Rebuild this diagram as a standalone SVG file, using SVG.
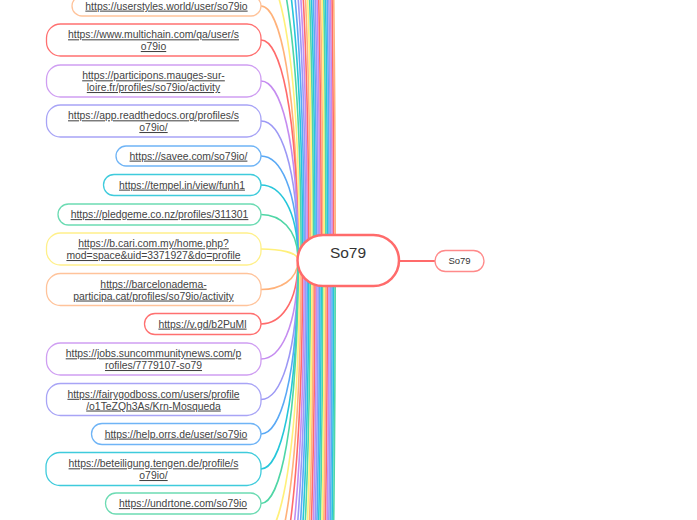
<svg xmlns="http://www.w3.org/2000/svg" width="697" height="520" viewBox="0 0 697 520">
<style>
.c{fill:none;stroke-width:1.6}
.r{stroke:#ff6b6b}.o{stroke:#ffb27a}.y{stroke:#fff07a}.g{stroke:#4fd6a6}.cy{stroke:#26c6da}.b{stroke:#5aa9f5}.l{stroke:#9c98f5}.p{stroke:#c58cf0}
.n rect{fill:#fff;stroke-width:1.3}
.t{font-family:"Liberation Sans",Arial,sans-serif;font-size:10.4px;fill:#444;text-decoration:underline;text-anchor:middle}
</style>
<rect width="697" height="520" fill="#fff"/>
<g id="connectors">
<path class="c y" d="M261,-29 C280.3,-29 299.55,57.7 299.55,260"/>
<path class="c g" d="M261,-65 C281.05,-65 301.1,32.5 301.1,260"/>
<path class="c cy" d="M261,-101 C281.8,-101 302.65,7.3 302.65,260"/>
<path class="c b" d="M261,-137 C282.6,-137 304.2,-17.9 304.2,260"/>
<path class="c l" d="M261,-173 C283.4,-173 305.75,-43.1 305.75,260"/>
<path class="c p" d="M261,-209 C284.2,-209 307.3,-68.3 307.3,260"/>
<path class="c r" d="M261,-245 C284.9,-245 308.85,-93.5 308.85,260"/>
<path class="c o" d="M261,-281 C285.7,-281 310.4,-118.7 310.4,260"/>
<path class="c y" d="M261,-317 C286.5,-317 311.95,-143.9 311.95,260"/>
<path class="c g" d="M261,-353 C287.3,-353 313.5,-169.1 313.5,260"/>
<path class="c cy" d="M261,-389 C288,-389 315.05,-194.3 315.05,260"/>
<path class="c b" d="M261,-425 C288.8,-425 316.6,-219.5 316.6,260"/>
<path class="c l" d="M261,-461 C289.6,-461 318.15,-244.7 318.15,260"/>
<path class="c p" d="M261,-497 C290.4,-497 319.7,-269.9 319.7,260"/>
<path class="c r" d="M261,-533 C291.1,-533 321.25,-295.1 321.25,260"/>
<path class="c o" d="M261,-569 C291.9,-569 322.8,-320.3 322.8,260"/>
<path class="c y" d="M261,-605 C292.7,-605 324.35,-345.5 324.35,260"/>
<path class="c g" d="M261,-641 C293.5,-641 325.9,-370.7 325.9,260"/>
<path class="c cy" d="M261,-677 C294.2,-677 327.45,-395.9 327.45,260"/>
<path class="c b" d="M261,-713 C295,-713 329,-421.1 329,260"/>
<path class="c l" d="M261,-749 C295.8,-749 330.55,-446.3 330.55,260"/>
<path class="c p" d="M261,-785 C296.6,-785 332.1,-471.5 332.1,260"/>
<path class="c r" d="M261,-821 C297.3,-821 333.65,-496.7 333.65,260"/>
<path class="c o" d="M261,-857 C298.1,-857 335.2,-521.9 335.2,260"/>
<path class="c y" d="M261,539.5 C280.3,539.5 299.55,455.65 299.55,260"/>
<path class="c o" d="M261,575.5 C281.05,575.5 301.1,480.85 301.1,260"/>
<path class="c r" d="M261,611.5 C281.8,611.5 302.65,506.05 302.65,260"/>
<path class="c p" d="M261,647.5 C282.6,647.5 304.2,531.25 304.2,260"/>
<path class="c l" d="M261,683.5 C283.4,683.5 305.75,556.45 305.75,260"/>
<path class="c b" d="M261,719.5 C284.2,719.5 307.3,581.65 307.3,260"/>
<path class="c cy" d="M261,755.5 C284.9,755.5 308.85,606.85 308.85,260"/>
<path class="c g" d="M261,791.5 C285.7,791.5 310.4,632.05 310.4,260"/>
<path class="c y" d="M261,827.5 C286.5,827.5 311.95,657.25 311.95,260"/>
<path class="c o" d="M261,863.5 C287.3,863.5 313.5,682.45 313.5,260"/>
<path class="c r" d="M261,899.5 C288,899.5 315.05,707.65 315.05,260"/>
<path class="c p" d="M261,935.5 C288.8,935.5 316.6,732.85 316.6,260"/>
<path class="c l" d="M261,971.5 C289.6,971.5 318.15,758.05 318.15,260"/>
<path class="c b" d="M261,1007.5 C290.4,1007.5 319.7,783.25 319.7,260"/>
<path class="c cy" d="M261,1043.5 C291.1,1043.5 321.25,808.45 321.25,260"/>
<path class="c g" d="M261,1079.5 C291.9,1079.5 322.8,833.65 322.8,260"/>
<path class="c y" d="M261,1115.5 C292.7,1115.5 324.35,858.85 324.35,260"/>
<path class="c o" d="M261,1151.5 C293.5,1151.5 325.9,884.05 325.9,260"/>
<path class="c r" d="M261,1187.5 C294.2,1187.5 327.45,909.25 327.45,260"/>
<path class="c p" d="M261,1223.5 C295,1223.5 329,934.45 329,260"/>
<path class="c l" d="M261,1259.5 C295.8,1259.5 330.55,959.65 330.55,260"/>
<path class="c b" d="M261,1295.5 C296.6,1295.5 332.1,984.85 332.1,260"/>
<path class="c cy" d="M261,1331.5 C297.3,1331.5 333.65,1010.05 333.65,260"/>
<path class="c g" d="M261,1367.5 C298.1,1367.5 335.2,1035.25 335.2,260"/>
<path class="c o" d="M261,6 C279.5,6 298,82.2 298,260"/>
<path class="c r" d="M261,40 C279.5,40 298,106 298,260"/>
<path class="c p" d="M261,81 C279.5,81 298,134.7 298,260"/>
<path class="c l" d="M261,121 C279.5,121 298,162.7 298,260"/>
<path class="c b" d="M261,156 C279.5,156 298,187.2 298,260"/>
<path class="c cy" d="M261,185 C279.5,185 298,207.5 298,260"/>
<path class="c g" d="M261,214.5 C279.5,214.5 298,228.2 298,260"/>
<path class="c y" d="M261,249 C279.5,249 298,252.3 298,260"/>
<path class="c o" d="M261,289.5 C279.5,289.5 298,280.7 298,260"/>
<path class="c r" d="M261,324 C279.5,324 298,304.8 298,260"/>
<path class="c p" d="M261,359 C279.5,359 298,329.3 298,260"/>
<path class="c l" d="M261,399.5 C279.5,399.5 298,357.7 298,260"/>
<path class="c b" d="M261,434 C279.5,434 298,381.8 298,260"/>
<path class="c cy" d="M261,469 C279.5,469 298,406.3 298,260"/>
<path class="c g" d="M261,503.5 C279.5,503.5 298,430.5 298,260"/>
<path d="M399,261 H435" stroke="#ff6b6b" stroke-width="2" fill="none"/>
</g>
<g id="n-userstyles" class="n"><rect x="72" y="-4" width="189" height="20" rx="10" stroke="#ffc39a"/><text class="t" x="166.5" y="9.6">https://userstyles.world/user/so79io</text></g>
<g id="n-multichain" class="n"><rect x="46.5" y="24" width="214.5" height="32" rx="14" stroke="#ff7070"/><text class="t" x="153.5" y="38.3">https://www.multichain.com/qa/user/s</text><text class="t" x="153.5" y="50">o79io</text></g>
<g id="n-participons" class="n"><rect x="46.5" y="65" width="214.5" height="32" rx="14" stroke="#cf9ef2"/><text class="t" x="153.5" y="79.3">https://participons.mauges-sur-</text><text class="t" x="153.5" y="91">loire.fr/profiles/so79io/activity</text></g>
<g id="n-readthedocs" class="n"><rect x="46.5" y="105" width="214.5" height="32" rx="14" stroke="#a8a4f6"/><text class="t" x="153.5" y="119.3">https://app.readthedocs.org/profiles/s</text><text class="t" x="153.5" y="131">o79io/</text></g>
<g id="n-savee" class="n"><rect x="116" y="146" width="145" height="20" rx="10" stroke="#6fb4f6"/><text class="t" x="188.5" y="159.6">https://savee.com/so79io/</text></g>
<g id="n-tempel" class="n"><rect x="103.5" y="174.5" width="157.5" height="21" rx="10.5" stroke="#3fcbdc"/><text class="t" x="182" y="188.6">https://tempel.in/view/funh1</text></g>
<g id="n-pledgeme" class="n"><rect x="58" y="204" width="203" height="21" rx="10.5" stroke="#6cdbb3"/><text class="t" x="159.5" y="218.1">https://pledgeme.co.nz/profiles/311301</text></g>
<g id="n-bcari" class="n"><rect x="46.5" y="233" width="214.5" height="32" rx="14" stroke="#fff08a"/><text class="t" x="153.5" y="247.3">https://b.cari.com.my/home.php?</text><text class="t" x="153.5" y="259">mod=space&amp;uid=3371927&amp;do=profile</text></g>
<g id="n-barcelona" class="n"><rect x="46.5" y="273.5" width="214.5" height="32" rx="14" stroke="#ffc39a"/><text class="t" x="153.5" y="287.8">https://barcelonadema-</text><text class="t" x="153.5" y="299.5">participa.cat/profiles/so79io/activity</text></g>
<g id="n-vgd" class="n"><rect x="144.5" y="313.5" width="116.5" height="21" rx="10.5" stroke="#ff7070"/><text class="t" x="202.5" y="327.6">https://v.gd/b2PuMl</text></g>
<g id="n-jobs" class="n"><rect x="46.5" y="343" width="214.5" height="32" rx="14" stroke="#cf9ef2"/><text class="t" x="153.5" y="357.3">https://jobs.suncommunitynews.com/p</text><text class="t" x="153.5" y="369">rofiles/7779107-so79</text></g>
<g id="n-fairygodboss" class="n"><rect x="46.5" y="383.5" width="214.5" height="32" rx="14" stroke="#a8a4f6"/><text class="t" x="153.5" y="397.8">https://fairygodboss.com/users/profile</text><text class="t" x="153.5" y="409.5">/o1TeZQh3As/Krn-Mosqueda</text></g>
<g id="n-help" class="n"><rect x="91.5" y="423.5" width="169.5" height="21" rx="10.5" stroke="#6fb4f6"/><text class="t" x="176" y="437.6">https://help.orrs.de/user/so79io</text></g>
<g id="n-beteiligung" class="n"><rect x="46" y="452.5" width="215" height="33" rx="14" stroke="#3fcbdc"/><text class="t" x="153.5" y="467.3">https://beteiligung.tengen.de/profile/s</text><text class="t" x="153.5" y="479">o79io/</text></g>
<g id="n-undrtone" class="n"><rect x="105.5" y="493" width="155.5" height="21" rx="10.5" stroke="#6cdbb3"/><text class="t" x="183" y="507.1">https://undrtone.com/so79io</text></g>
<g id="n-root"><rect x="297.5" y="235" width="101.5" height="51" rx="25.5" fill="#fff" stroke="#ff6b6b" stroke-width="2.5"/><text x="348" y="257.5" font-family="'Liberation Sans',Arial,sans-serif" font-size="15.5" fill="#333" text-anchor="middle">So79</text></g>
<g id="n-right"><rect x="435" y="250.5" width="49" height="21" rx="10.5" fill="#fff" stroke="#ff8a8a" stroke-width="1.3"/><text x="459.5" y="264" font-family="'Liberation Sans',Arial,sans-serif" font-size="9.5" fill="#333" text-anchor="middle">So79</text></g>
</svg>
